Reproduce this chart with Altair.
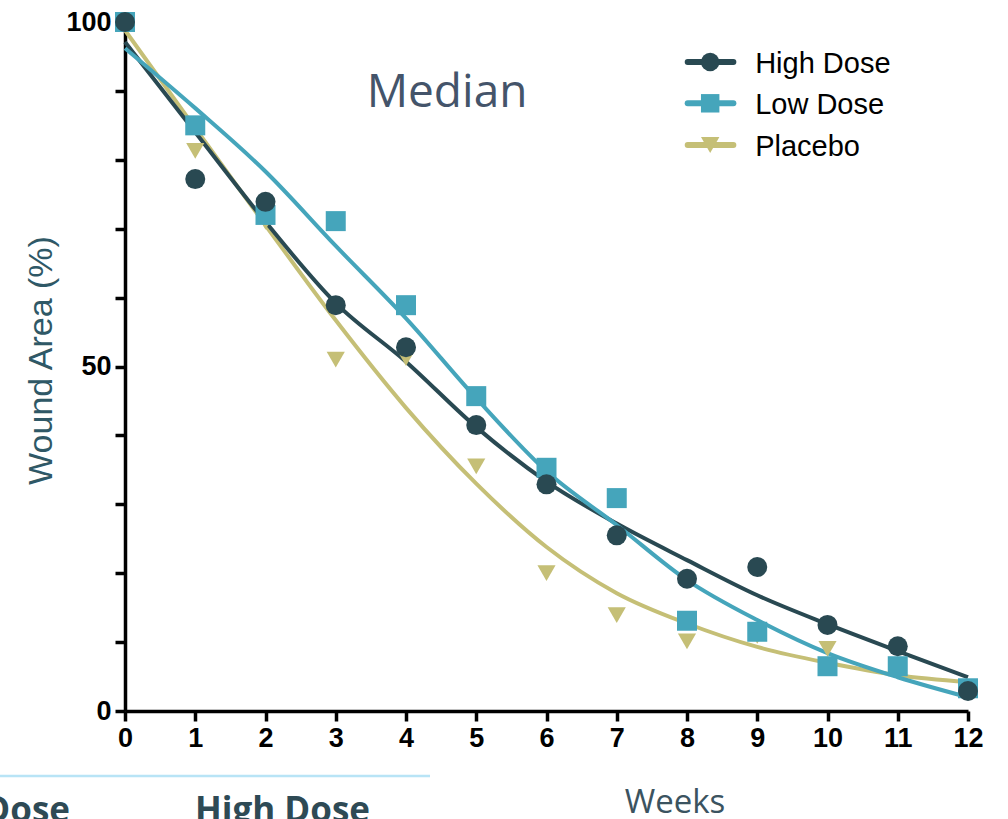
import altair as alt
import pandas as pd

# ---------------- data ----------------
series_names = ["High Dose", "Low Dose", "Placebo"]
series_colors = ["#294952", "#45a5bb", "#c5bf76"]
series_shapes = ["circle", "square", "triangle-down"]

weeks = list(range(13))

high_pts = [100, 77.2, 73.9, 58.9, 52.8, 41.5, 32.9, 25.5, 19.2, 20.9, 12.5, 9.4, 2.9]
low_pts = [100, 85.0, 72.0, 71.1, 58.9, 45.7, 35.3, 30.9, 13.1, 11.5, 6.5, 6.5, 3.3]
plc_pts = [100, 81.3, 71.0, 51.0, 51.2, 35.5, 20.0, 13.9, 10.1, 10.9, 9.0, 6.5, 3.0]

# fitted curves, read at each week
high_fit = [97.1, 84.0, 71.0, 59.2, 50.7, 41.2, 33.3, 27.2, 21.9, 16.8, 12.6, 8.7, 4.9]
low_fit = [96.2, 87.5, 78.3, 67.5, 57.0, 45.4, 34.8, 27.0, 19.0, 13.2, 8.4, 4.9, 2.0]
plc_fit = [98.8, 84.6, 70.5, 56.7, 44.0, 33.0, 23.8, 17.1, 12.7, 9.3, 7.0, 5.2, 4.2]

pts = {"High Dose": high_pts, "Low Dose": low_pts, "Placebo": plc_pts}
fits = {"High Dose": high_fit, "Low Dose": low_fit, "Placebo": plc_fit}

# legend placement (in data units)
leg_sym_x = 8.33
leg_line_x = 8.01
leg_line_x2 = 8.66
leg_text_x = 8.97
leg_sym_y = [94.2, 88.2, 82.15]
leg_text_y = [92.6, 86.6, 80.6]

W, H = 843, 689
PAD = {"left": 125, "top": 22, "right": 40, "bottom": 108}

color_scale = alt.Scale(domain=series_names, range=series_colors)
shape_scale = alt.Scale(domain=series_names, range=series_shapes)

common_axis = dict(
    labelFont="Liberation Sans",
    labelFontSize=27,
    labelFontWeight="bold",
    labelColor="black",
    labelFlush=False,
    labelOverlap=False,
    tickSize=10,
    tickWidth=3.5,
    tickColor="black",
    domainColor="black",
    domainWidth=3.5,
    grid=False,
)

x_enc = alt.X(
    "week:Q",
    scale=alt.Scale(domain=[0, 12], nice=False),
    axis=alt.Axis(
        values=weeks,
        title="Weeks",
        titleFont="Open Sans",
        titleFontSize=33,
        titleFontWeight="normal",
        titleColor="#3b5360",
        titleX=549.5,
        titleY=101,
        titleAlign="center",
        titleBaseline="alphabetic",
        labelPadding=4,
        **common_axis,
    ),
)
y_enc = alt.Y(
    "value:Q",
    scale=alt.Scale(domain=[0, 100], nice=False),
    axis=alt.Axis(
        values=list(range(0, 101, 10)),
        labelExpr="datum.value % 50 == 0 ? datum.label : ''",
        title="Wound Area (%)",
        titleFont="Liberation Sans",
        titleFontSize=34,
        titleFontWeight="normal",
        titleColor="#2f5866",
        titleAngle=270,
        titleX=-84,
        titleY=338,
        titleAlign="center",
        titleBaseline="middle",
        labelPadding=4,
        **common_axis,
    ),
)

layers = []

# fitted lines
for name in ["Placebo", "High Dose", "Low Dose"]:
    df = pd.DataFrame({"week": weeks, "value": fits[name], "series": name})
    layers.append(
        alt.Chart(df)
        .mark_line(strokeWidth=4, interpolate="monotone")
        .encode(x=x_enc, y=y_enc,
                color=alt.Color("series:N", scale=color_scale, legend=None))
    )

# data points
sizes = {"High Dose": 400, "Low Dose": 400, "Placebo": 330}
for name in ["Placebo", "Low Dose", "High Dose"]:
    df = pd.DataFrame({"week": weeks, "value": pts[name], "series": name})
    layers.append(
        alt.Chart(df)
        .mark_point(filled=True, opacity=1, size=sizes[name])
        .encode(x=x_enc, y=y_enc,
                color=alt.Color("series:N", scale=color_scale, legend=None),
                shape=alt.Shape("series:N", scale=shape_scale, legend=None))
    )

# title inside plot
title_df = pd.DataFrame({"week": [4.584], "value": [87.66], "label": ["Median"]})
layers.append(
    alt.Chart(title_df)
    .mark_text(font="Open Sans", fontSize=46, color="#44546a", align="center",
               baseline="alphabetic")
    .encode(x=x_enc, y=y_enc, text="label:N")
)

# manual legend
leg_df = pd.DataFrame({
    "series": series_names,
    "week": [leg_line_x] * 3,
    "week2": [leg_line_x2] * 3,
    "value": leg_sym_y,
})
layers.append(
    alt.Chart(leg_df)
    .mark_rule(strokeWidth=6, strokeCap="round")
    .encode(x=x_enc, x2="week2:Q", y=y_enc,
            color=alt.Color("series:N", scale=color_scale, legend=None))
)
leg_sym_df = pd.DataFrame({
    "series": series_names,
    "week": [leg_sym_x] * 3,
    "value": leg_sym_y,
})
layers.append(
    alt.Chart(leg_sym_df)
    .mark_point(filled=True, opacity=1, size=340)
    .encode(x=x_enc, y=y_enc,
            color=alt.Color("series:N", scale=color_scale, legend=None),
            shape=alt.Shape("series:N", scale=shape_scale, legend=None))
)
leg_txt_df = pd.DataFrame({
    "series": series_names,
    "week": [leg_text_x] * 3,
    "value": leg_text_y,
})
layers.append(
    alt.Chart(leg_txt_df)
    .mark_text(font="Liberation Sans", fontSize=29, color="black", align="left",
               baseline="alphabetic")
    .encode(x=x_enc, y=y_enc, text="series:N")
)

# slide decorations cut at the bottom edge
dummy = pd.DataFrame({"a": [0]})
layers.append(
    alt.Chart(dummy)
    .mark_rule(color="#b8e4f6", strokeWidth=2.5)
    .encode(x=alt.value(-125), x2=alt.value(305), y=alt.value(754))
)
layers.append(
    alt.Chart(dummy)
    .mark_text(text="Low Dose", font="Open Sans", fontSize=35, fontWeight="bold",
               color="#2e4a55", align="right", baseline="alphabetic")
    .encode(x=alt.value(-55), y=alt.value(800))
)
layers.append(
    alt.Chart(dummy)
    .mark_text(text="High Dose", font="Open Sans", fontSize=35, fontWeight="bold",
               color="#2e4a55", align="left", baseline="alphabetic")
    .encode(x=alt.value(70), y=alt.value(800))
)

chart = (
    alt.layer(*layers)
    .properties(width=W, height=H, padding=PAD,
                autosize=alt.AutoSizeParams(type="none"),
                view=alt.ViewBackground(stroke="transparent", strokeWidth=0))
    .configure_view(stroke="transparent", strokeWidth=0)
    .configure(background="white")
)

chart.save("out.html", embed_options={"renderer": "svg", "actions": False})
